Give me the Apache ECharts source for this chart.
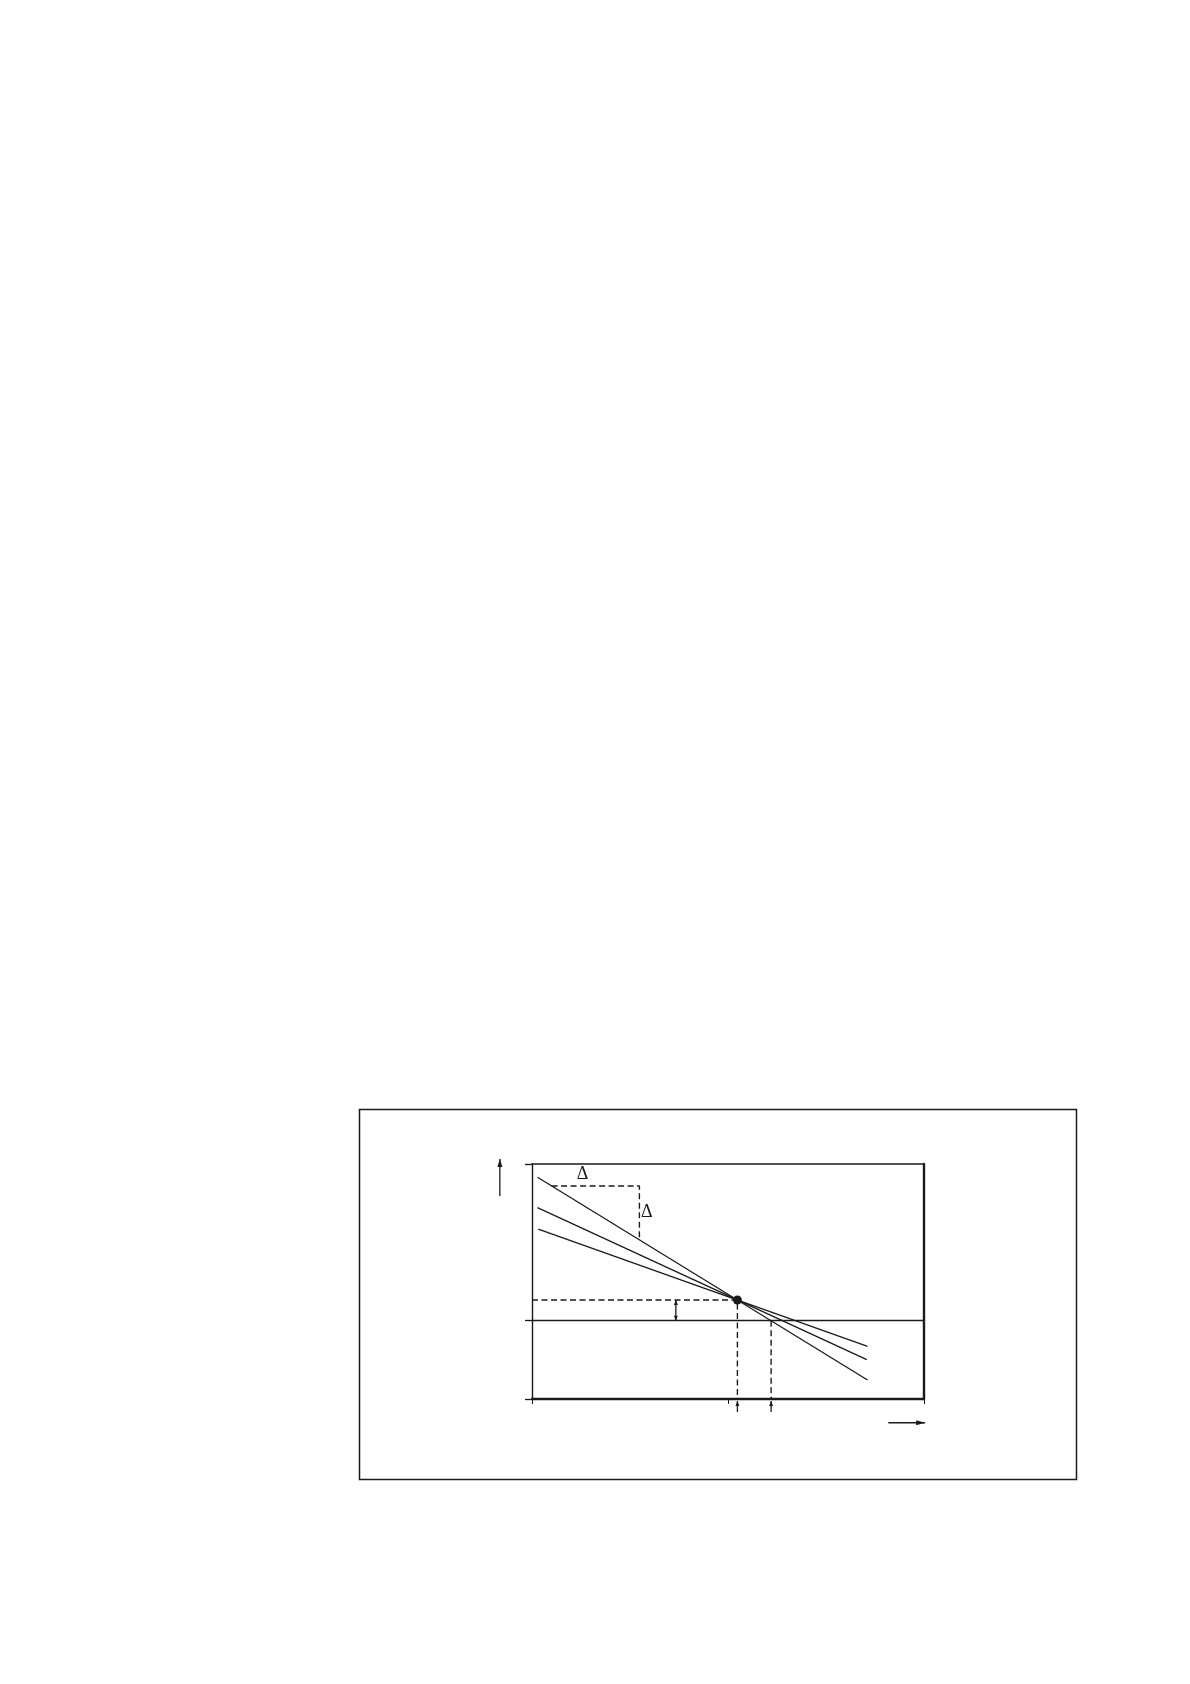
<!DOCTYPE html>
<html>
<head>
<meta charset="utf-8">
<script src="https://cdn.jsdelivr.net/npm/echarts@6/dist/echarts.min.js"></script>
<style>
html,body{margin:0;padding:0;background:#fff;}
#chart{width:1190px;height:1684px;}
</style>
</head>
<body>
<div id="chart"></div>
<script>
// ---- data (axis units) ----
var xTicks = [0, 50, 100];
var yTicks = [-1, 0, 2];
var steepLine   = [[1.4, 1.830], [85.6, -0.758]];
var middleLine  = [[1.4, 1.442], [85.4, -0.498]];
var shallowLine = [[1.6, 1.170], [85.6, -0.327]];
var crossPoint  = [52.4, 0.264];
var zeroCrossX  = 61.0;
var slopeBoxX   = [5.0, 27.4];
var slopeBoxY   = [1.719, 1.04];
var deltaLabels = [[12.9, 1.872], [29.3, 1.383]];
var offsetArrowX = 36.7;
var yArrow = [[-8.2, 1.591], [-8.2, 2.064]];
var xArrow = [[90.9, -1.303], [100.3, -1.303]];
var bottomArrowY = [-1.166, -1.026];

var ink = '#1a1a1a';
var dash = [6, 3.5];

function lineSeries(data, dashed) {
  return {
    type: 'line', data: data, showSymbol: false, silent: true,
    animation: false, clip: false,
    lineStyle: { color: ink, width: dashed ? 1.4 : 1.3, type: dashed ? dash : 'solid', opacity: 1 }
  };
}

function arrowHead(tip, from, len, hw) {
  var dx = tip[0] - from[0], dy = tip[1] - from[1];
  var d = Math.sqrt(dx * dx + dy * dy) || 1;
  var ux = dx / d, uy = dy / d;
  var bx = tip[0] - ux * len, by = tip[1] - uy * len;
  return {
    type: 'polygon',
    shape: { points: [tip, [bx - uy * hw, by + ux * hw], [bx + uy * hw, by - ux * hw]] },
    style: { fill: ink }
  };
}
function arrowLine(a, b, heads, len, hw) {
  var els = [{
    type: 'line', shape: { x1: a[0], y1: a[1], x2: b[0], y2: b[1] },
    style: { stroke: ink, lineWidth: 1.3 }
  }];
  if (heads.indexOf('end') >= 0) els.push(arrowHead(b, a, len, hw));
  if (heads.indexOf('start') >= 0) els.push(arrowHead(a, b, len, hw));
  return els;
}

var chart = echarts.init(document.getElementById('chart'), null, { renderer: 'canvas' });

var option = {
  backgroundColor: '#fff',
  animation: false,
  graphic: [{
    type: 'rect', silent: true,
    shape: { x: 359.5, y: 1109.5, width: 717, height: 370 },
    style: { fill: 'none', stroke: ink, lineWidth: 1.5 }
  }],
  grid: { left: 532, top: 1164, width: 392, height: 235, show: false },
  xAxis: [{
    type: 'value', min: 0, max: 100, position: 'bottom',
    axisLine: { show: true, onZero: false, lineStyle: { color: ink, width: 2.4 } },
    axisTick: { show: true, length: 5, customValues: xTicks, lineStyle: { color: ink, width: 1 } },
    axisLabel: { show: false }, splitLine: { show: false }
  }, {
    type: 'value', min: 0, max: 100, position: 'top',
    axisLine: { show: true, onZero: false, lineStyle: { color: ink, width: 1.5 } },
    axisTick: { show: false }, axisLabel: { show: false }, splitLine: { show: false }
  }],
  yAxis: [{
    type: 'value', min: -1, max: 2, position: 'left',
    axisLine: { show: true, onZero: false, lineStyle: { color: ink, width: 1.4 } },
    axisTick: { show: true, length: 7, customValues: yTicks, lineStyle: { color: ink, width: 1.3 } },
    axisLabel: { show: false }, splitLine: { show: false }
  }, {
    type: 'value', min: -1, max: 2, position: 'right',
    axisLine: { show: true, onZero: false, lineStyle: { color: ink, width: 2.4 } },
    axisTick: { show: false }, axisLabel: { show: false }, splitLine: { show: false }
  }],
  series: [
    Object.assign(lineSeries(steepLine, false), {
      markLine: {
        silent: true, symbol: 'none', animation: false, label: { show: false },
        lineStyle: { color: ink, width: 1.3, type: 'solid', opacity: 1 },
        data: [{ yAxis: 0 }]
      }
    }),
    lineSeries(middleLine, false),
    lineSeries(shallowLine, false),
    lineSeries([[slopeBoxX[0], slopeBoxY[0]], [slopeBoxX[1], slopeBoxY[0]], [slopeBoxX[1], slopeBoxY[1]]], true),
    lineSeries([[0, crossPoint[1]], [crossPoint[0], crossPoint[1]], [crossPoint[0], -1]], true),
    lineSeries([[zeroCrossX, 0], [zeroCrossX, -1]], true),
    {
      type: 'scatter', data: [crossPoint], symbol: 'circle', symbolSize: 9,
      itemStyle: { color: ink, opacity: 1 }, silent: true, animation: false, z: 5
    },
    {
      type: 'custom', clip: false, silent: true, animation: false, z: 6,
      data: [[0, 0]],
      renderItem: function (params, api) {
        var c = function (p) { return api.coord(p); };
        var els = [];
        els = els.concat(arrowLine(c(yArrow[0]), c(yArrow[1]), ['end'], 8, 2.5));
        els = els.concat(arrowLine(c(xArrow[0]), c(xArrow[1]), ['end'], 9, 2.5));
        els = els.concat(arrowLine(c([offsetArrowX, 0]), c([offsetArrowX, crossPoint[1]]), ['start', 'end'], 5, 2));
        els = els.concat(arrowLine(c([crossPoint[0], bottomArrowY[0]]), c([crossPoint[0], bottomArrowY[1]]), ['end'], 5, 2));
        els = els.concat(arrowLine(c([zeroCrossX, bottomArrowY[0]]), c([zeroCrossX, bottomArrowY[1]]), ['end'], 5, 2));
        deltaLabels.forEach(function (p) {
          var q = c(p);
          els.push({
            type: 'text',
            style: {
              text: 'Δ', x: q[0], y: q[1], align: 'center', verticalAlign: 'middle',
              font: '18px "Liberation Serif", "DejaVu Serif", serif', fill: ink
            }
          });
        });
        return { type: 'group', children: els };
      }
    }
  ]
};
chart.setOption(option);
</script>
</body>
</html>
